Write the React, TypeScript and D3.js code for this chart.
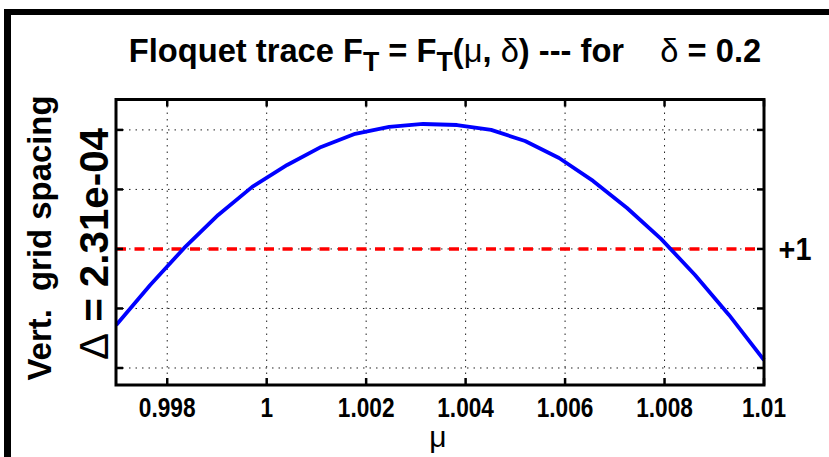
import React from "react";
import * as d3 from "d3";

const MU = [
  0.996975, 0.997658, 0.998342, 0.999025, 0.999709, 1.000412, 1.001095,
  1.001779, 1.002462, 1.003146, 1.003829, 1.004513, 1.005196, 1.005879,
  1.006563, 1.007246, 1.00793, 1.008613, 1.009296, 1.01,
];
const FT = [
  0.999705, 0.99986, 1.000004, 1.000132, 1.000241, 1.000326, 1.000396,
  1.000447, 1.000474, 1.000485, 1.000481, 1.000462, 1.000419, 1.000353,
  1.000264, 1.000159, 1.000039, 0.999899, 0.999744, 0.999569,
];
const X_TICKS = [0.998, 1, 1.002, 1.004, 1.006, 1.008, 1.01];
const X_TICK_LABELS = ["0.998", "1", "1.002", "1.004", "1.006", "1.008", "1.01"];
const Y_TICKS = [0.999538, 0.999769, 1, 1.000231, 1.000462];
const X_DOMAIN = [0.99697, 1.01];
const Y_DOMAIN = [0.999472, 1.00058];
const REF_LEVEL = 1;

const W = 829;
const H = 457;
const L = 116, R = 764, T = 99.5, B = 385;
const FONT = "'Liberation Sans', Arial, Helvetica, sans-serif";

export default function App() {
  const x = d3.scaleLinear().domain(X_DOMAIN).range([L, R]);
  const y = d3.scaleLinear().domain(Y_DOMAIN).range([B, T]);
  const line = d3
    .line<number>()
    .x((_, i) => x(MU[i]))
    .y((d) => y(d));
  const tickLen = 7;
  return (
    <svg
      width={W}
      height={H}
      style={{ position: "absolute", left: 0, top: 0, background: "#fff" }}
      fontFamily={FONT}
    >
      <rect x={0} y={0} width={W} height={H} fill="#fff" />
      {/* outer frame */}
      <rect x={4} y={9} width={7} height={H - 9} fill="#000" />
      <rect x={4} y={9} width={W - 4} height={6} fill="#000" />

      {/* title */}
      <g transform="translate(445,62) scale(0.99,1)">
        <text
          x={0}
          y={0}
          textAnchor="middle"
          fontSize={33}
          fontWeight="bold"
          style={{ whiteSpace: "pre" }}
        >
          <tspan>Floquet trace F</tspan>
          <tspan fontSize={27} dy={9}>T</tspan>
          <tspan dy={-9}> = F</tspan>
          <tspan fontSize={27} dy={9}>T</tspan>
          <tspan dy={-9}>(</tspan>
          <tspan fontWeight="normal">μ</tspan>
          <tspan>, </tspan>
          <tspan fontWeight="normal">δ</tspan>
          <tspan>) --- for    </tspan>
          <tspan fontWeight="normal">δ</tspan>
          <tspan> = 0.2</tspan>
        </text>
      </g>

      {/* grid */}
      {X_TICKS.map((t) => (
        <line
          key={"gx" + t}
          x1={x(t)}
          x2={x(t)}
          y1={T}
          y2={B}
          stroke="#222"
          strokeWidth={1}
          strokeDasharray="1.5,5"
        />
      ))}
      {Y_TICKS.map((t) => (
        <line
          key={"gy" + t}
          x1={L}
          x2={R}
          y1={y(t)}
          y2={y(t)}
          stroke="#222"
          strokeWidth={1}
          strokeDasharray="1.5,5"
        />
      ))}

      {/* reference +1 line */}
      <line
        x1={L}
        x2={R}
        y1={y(REF_LEVEL)}
        y2={y(REF_LEVEL)}
        stroke="#ff0000"
        strokeWidth={3.5}
        strokeDasharray="10,8.5"
      />

      {/* curve */}
      <path
        d={line(FT) || ""}
        fill="none"
        stroke="#0000ff"
        strokeWidth={3.8}
        strokeLinejoin="round"
      />

      {/* ticks */}
      {X_TICKS.map((t) => (
        <g key={"tx" + t}>
          <line x1={x(t)} x2={x(t)} y1={B} y2={B - tickLen} stroke="#000" strokeWidth={2.5} />
          <line x1={x(t)} x2={x(t)} y1={T} y2={T + tickLen} stroke="#000" strokeWidth={2.5} />
        </g>
      ))}
      {Y_TICKS.map((t) => (
        <g key={"ty" + t}>
          <line x1={L} x2={L + tickLen} y1={y(t)} y2={y(t)} stroke="#000" strokeWidth={2.5} />
          <line x1={R} x2={R - tickLen} y1={y(t)} y2={y(t)} stroke="#000" strokeWidth={2.5} />
        </g>
      ))}

      {/* axes box */}
      <rect x={L} y={T} width={R - L} height={B - T} fill="none" stroke="#000" strokeWidth={3} />

      {/* x tick labels */}
      {X_TICKS.map((t, i) => (
        <text
          key={"lx" + t}
          transform={`translate(${x(t)},417) scale(0.84,1)`}
          textAnchor="middle"
          fontSize={27}
          fontWeight="bold"
        >
          {X_TICK_LABELS[i]}
        </text>
      ))}

      {/* x label */}
      <text x={438} y={447} textAnchor="middle" fontSize={30}>
        μ
      </text>

      {/* +1 label */}
      <text
        transform="translate(795,260) scale(0.9,1)"
        textAnchor="middle"
        fontSize={32}
        fontWeight="bold"
      >
        +1
      </text>

      {/* y labels */}
      <text
        transform="translate(51,238) rotate(-90)"
        textAnchor="middle"
        fontSize={34}
        fontWeight="bold"
        textLength={285}
        lengthAdjust="spacingAndGlyphs"
        style={{ whiteSpace: "pre" }}
      >
        Vert.  grid spacing
      </text>
      <text
        transform="translate(108,244) rotate(-90)"
        textAnchor="middle"
        fontSize={41}
        fontWeight="bold"
        textLength={232}
        lengthAdjust="spacingAndGlyphs"
      >
        <tspan fontWeight="normal">Δ</tspan>
        <tspan> = 2.31e-04</tspan>
      </text>
    </svg>
  );
}
